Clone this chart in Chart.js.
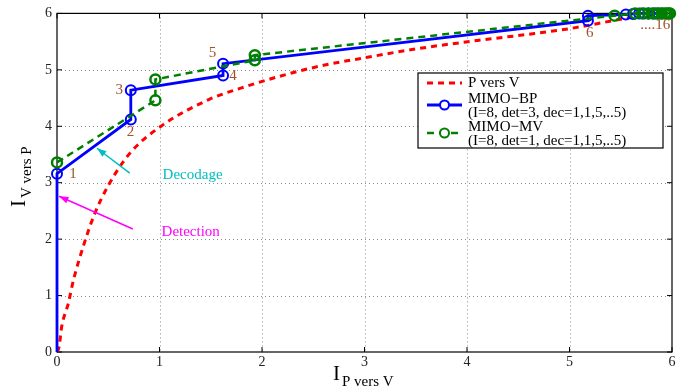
<!DOCTYPE html>
<html>
<head>
<meta charset="utf-8">
<script src="https://cdn.jsdelivr.net/npm/chart.js@4.4.0/dist/chart.umd.min.js"></script>
<style>
  body { margin: 0; background: #fff; }
  #chart { display: block; }
</style>
</head>
<body>
<canvas id="chart" width="691" height="387"></canvas>
<script>
// P vers V reference curve
const pvX = [0, 0.02, 0.046, 0.11, 0.16, 0.27, 0.37, 0.5, 0.71, 1.03, 1.49, 1.8, 2.24, 2.6, 2.99, 3.5, 4.1, 4.6, 5.0, 5.42, 5.6];
const pvY = [0, 0.09, 0.45, 0.86, 1.27, 1.95, 2.46, 2.95, 3.52, 4.02, 4.48, 4.68, 4.92, 5.08, 5.21, 5.37, 5.52, 5.63, 5.73, 5.87, 5.93];

// MIMO-BP trajectory (origin + iterations 1..16)
const bpX = [0, 0, 0.72, 0.72, 1.62, 1.62, 5.18, 5.18, 5.55, 5.62, 5.68, 5.73, 5.77, 5.81, 5.84, 5.87, 5.9];
const bpY = [0, 3.16, 4.12, 4.64, 4.9, 5.11, 5.87, 5.96, 5.98, 5.99, 6.0, 6.0, 6.0, 6.0, 6.0, 6.0, 6.0];

// MIMO-MV trajectory (iterations 1..16)
const mvX = [0, 0.96, 0.96, 1.93, 1.93, 5.44, 5.64, 5.71, 5.77, 5.82, 5.86, 5.9, 5.93, 5.95, 5.97, 5.98];
const mvY = [3.36, 4.46, 4.83, 5.17, 5.26, 5.96, 6.0, 6.0, 6.0, 6.0, 6.0, 6.0, 6.0, 6.0, 6.0, 6.0];

const tickValues = [0, 1, 2, 3, 4, 5, 6];

// iteration labels [text, x, y]
const iterLabels = [
    ["1", 0.12, 3.16],
    ["2", 0.68, 3.9],
    ["3", 0.57, 4.64],
    ["4", 1.68, 4.89],
    ["5", 1.48, 5.29],
    ["6", 5.16, 5.66],
    ["....16", 5.69, 5.8]
];

// arrows [text, textX, textY, fromX, fromY, toX, toY, color]
const arrows = [
    ["Decodage", 1.03, 3.13, 0.71, 3.17, 0.39, 3.61, "#00bfbf"],
    ["Detection", 1.02, 2.12, 0.74, 2.18, 0.02, 2.76, "#ff00ff"]
];

const serif = "'Liberation Serif', 'DejaVu Serif', serif";

function toXY(xs, ys) {
    return xs.map((x, i) => ({ x: x, y: ys[i] }));
}

// grid, frame and inward ticks go under the curves
const axesBox = {
    id: "axesBox",
    beforeDatasetsDraw(chart) {
        const { ctx, chartArea: a, scales } = chart;
        const sx = scales.x, sy = scales.y;
        ctx.save();
        ctx.strokeStyle = "#8a8a8a";
        ctx.lineWidth = 1;
        ctx.setLineDash([1, 3]);
        tickValues.slice(1, -1).forEach(v => {
            const px = Math.round(sx.getPixelForValue(v)) + 0.5;
            const py = Math.round(sy.getPixelForValue(v)) + 0.5;
            ctx.beginPath();
            ctx.moveTo(px, a.top); ctx.lineTo(px, a.bottom);
            ctx.moveTo(a.left, py); ctx.lineTo(a.right, py);
            ctx.stroke();
        });
        ctx.setLineDash([]);

        ctx.strokeStyle = "#000";
        ctx.lineWidth = 1.2;
        ctx.strokeRect(a.left, a.top, a.right - a.left, a.bottom - a.top);

        ctx.lineWidth = 1;
        tickValues.forEach(v => {
            const px = sx.getPixelForValue(v);
            const py = sy.getPixelForValue(v);
            ctx.beginPath();
            ctx.moveTo(px, a.bottom); ctx.lineTo(px, a.bottom - 5);
            ctx.moveTo(px, a.top); ctx.lineTo(px, a.top + 5);
            ctx.moveTo(a.left, py); ctx.lineTo(a.left + 5, py);
            ctx.moveTo(a.right, py); ctx.lineTo(a.right - 5, py);
            ctx.stroke();
        });
        ctx.restore();
    }
};

const decorations = {
    id: "decorations",
    afterDatasetsDraw(chart) {
        const { ctx, scales } = chart;
        const sx = scales.x, sy = scales.y;
        ctx.save();

        // iteration numbers
        ctx.fillStyle = "#a0522d";
        ctx.font = "15px " + serif;
        ctx.textBaseline = "middle";
        ctx.textAlign = "left";
        iterLabels.forEach(l => {
            ctx.fillText(l[0], sx.getPixelForValue(l[1]), sy.getPixelForValue(l[2]));
        });

        // arrows
        arrows.forEach(ar => {
            const x1 = sx.getPixelForValue(ar[3]), y1 = sy.getPixelForValue(ar[4]);
            const x2 = sx.getPixelForValue(ar[5]), y2 = sy.getPixelForValue(ar[6]);
            ctx.strokeStyle = ar[7];
            ctx.fillStyle = ar[7];
            ctx.lineWidth = 1.5;
            ctx.beginPath();
            ctx.moveTo(x1, y1); ctx.lineTo(x2, y2);
            ctx.stroke();
            const ang = Math.atan2(y2 - y1, x2 - x1);
            ctx.beginPath();
            ctx.moveTo(x2, y2);
            ctx.lineTo(x2 - 10 * Math.cos(ang - 0.35), y2 - 10 * Math.sin(ang - 0.35));
            ctx.lineTo(x2 - 10 * Math.cos(ang + 0.35), y2 - 10 * Math.sin(ang + 0.35));
            ctx.closePath();
            ctx.fill();
            ctx.font = "15px " + serif;
            ctx.fillText(ar[0], sx.getPixelForValue(ar[1]), sy.getPixelForValue(ar[2]));
        });

        // axis titles
        ctx.fillStyle = "#000";
        ctx.textBaseline = "alphabetic";
        ctx.textAlign = "left";
        ctx.font = "21px " + serif;
        ctx.fillText("I", 333, 380);
        ctx.font = "15px " + serif;
        ctx.fillText("P vers V", 342, 386);

        ctx.save();
        ctx.translate(25, 207);
        ctx.rotate(-Math.PI / 2);
        ctx.font = "21px " + serif;
        ctx.fillText("I", 0, 0);
        ctx.font = "15px " + serif;
        ctx.fillText("V vers P", 9, 6);
        ctx.restore();

        // legend
        const lx = 418, ly = 73, lw = 245, lh = 75;
        ctx.fillStyle = "#fff";
        ctx.fillRect(lx, ly, lw, lh);
        ctx.strokeStyle = "#000";
        ctx.lineWidth = 1.2;
        ctx.strokeRect(lx, ly, lw, lh);

        const items = [
            { ds: 0, y: 83, lines: ["P vers V"] },
            { ds: 1, y: 99, lines: ["MIMO\u2212BP", "(I=8, det=3, dec=1,1,5,..5)"] },
            { ds: 2, y: 127, lines: ["MIMO\u2212MV", "(I=8, det=1, dec=1,1,5,..5)"] }
        ];
        ctx.font = "15px " + serif;
        ctx.textBaseline = "middle";
        items.forEach(it => {
            const ds = chart.data.datasets[it.ds];
            const ly0 = it.y + (it.lines.length > 1 ? 6 : 0);
            ctx.strokeStyle = ds.borderColor;
            ctx.lineWidth = ds.borderWidth;
            ctx.setLineDash(ds.borderDash || []);
            ctx.beginPath();
            ctx.moveTo(427, ly0); ctx.lineTo(462, ly0);
            ctx.stroke();
            ctx.setLineDash([]);
            if (it.ds > 0) {
                ctx.beginPath();
                ctx.arc(444.5, ly0, 4.5, 0, Math.PI * 2);
                ctx.fillStyle = "#fff";
                ctx.fill();
                ctx.lineWidth = 2;
                ctx.stroke();
            }
            ctx.fillStyle = "#000";
            it.lines.forEach((t, k) => ctx.fillText(t, 468, it.y + k * 14));
        });

        ctx.restore();
    }
};

const ctx = document.getElementById("chart").getContext("2d");

const chart = new Chart(ctx, {
    type: "scatter",
    data: {
        datasets: [
            {
                label: "P vers V",
                data: toXY(pvX, pvY),
                showLine: true,
                borderColor: "#ff0000",
                borderWidth: 3,
                borderDash: [6, 5],
                pointRadius: 0,
                cubicInterpolationMode: "monotone",
                order: 3
            },
            {
                label: "MIMO-BP",
                data: toXY(bpX, bpY),
                showLine: true,
                borderColor: "#0000ff",
                backgroundColor: "rgba(0,0,0,0)",
                borderWidth: 2.8,
                pointRadius: bpX.map((v, i) => (i === 0 ? 0 : 5)),
                pointBorderWidth: 2,
                pointBorderColor: "#0000ff",
                pointBackgroundColor: "rgba(0,0,0,0)",
                clip: false,
                order: 2
            },
            {
                label: "MIMO-MV",
                data: toXY(mvX, mvY),
                showLine: true,
                borderColor: "#008000",
                backgroundColor: "rgba(0,0,0,0)",
                borderWidth: 2.5,
                borderDash: [7, 5],
                pointRadius: 5,
                pointBorderWidth: 2.5,
                pointBorderColor: "#008000",
                pointBackgroundColor: "rgba(0,0,0,0)",
                clip: false,
                order: 1
            }
        ]
    },
    options: {
        responsive: false,
        animation: false,
        layout: { padding: { top: 13, right: 19, left: 0, bottom: 0 } },
        plugins: {
            legend: { display: false },
            tooltip: { enabled: false }
        },
        scales: {
            x: {
                type: "linear",
                min: 0,
                max: 6,
                afterFit: s => { s.height = 35; },
                afterBuildTicks: s => { s.ticks = tickValues.map(v => ({ value: v })); },
                ticks: {
                    color: "#222",
                    font: { family: serif, size: 14 },
                    padding: 2,
                    maxRotation: 0
                },
                grid: { display: false, drawTicks: false },
                border: { display: false }
            },
            y: {
                type: "linear",
                min: 0,
                max: 6,
                afterFit: s => { s.width = 57; },
                afterBuildTicks: s => { s.ticks = tickValues.map(v => ({ value: v })); },
                ticks: {
                    color: "#222",
                    font: { family: serif, size: 14 },
                    padding: 5
                },
                grid: { display: false, drawTicks: false },
                border: { display: false }
            }
        }
    },
    plugins: [axesBox, decorations]
});
</script>
</body>
</html>
